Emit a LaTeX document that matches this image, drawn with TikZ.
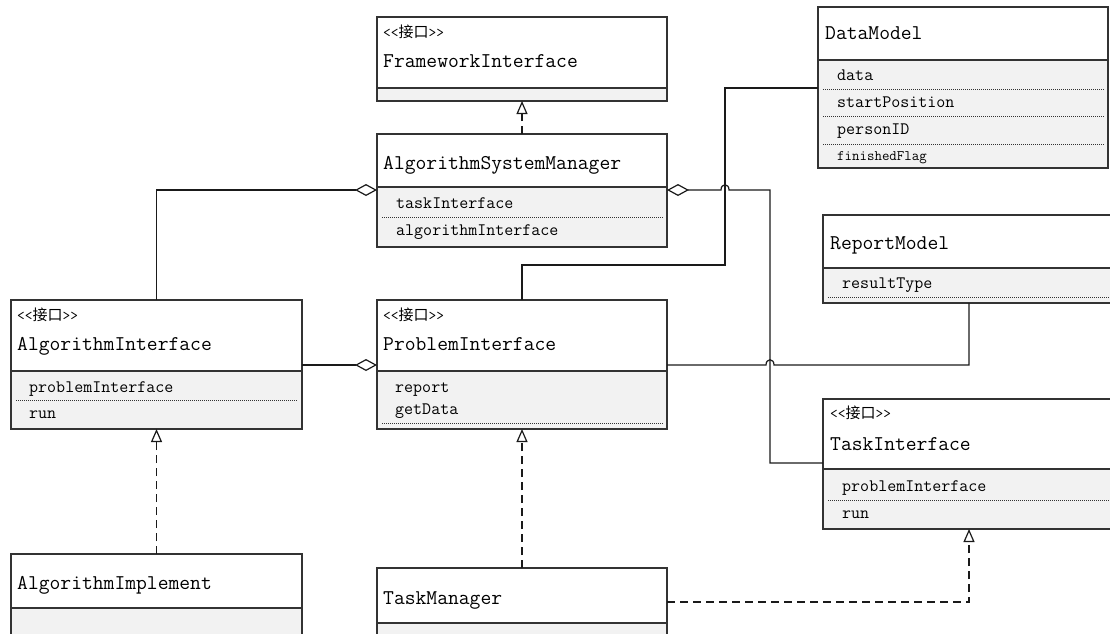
\documentclass[tikz,border=0pt]{standalone}
\usepackage{fontspec}
\newfontfamily\cjk{Noto Sans CJK SC}
\usepackage{tikz}
\usetikzlibrary{arrows.meta}

\definecolor{boxline}{HTML}{333333}
\definecolor{boxfill}{HTML}{F2F2F2}
\definecolor{wire}{HTML}{1A1A1A}

\begin{document}
\begin{tikzpicture}[x=1pt,y=-1pt]
        \tikzstyle{head}=[draw=boxline,fill=white,line width=1.1pt,inner sep=0pt,outer sep=0pt,minimum width=290pt]
        \tikzstyle{body}=[draw=boxline,fill=boxfill,line width=1.1pt,inner sep=0pt,outer sep=0pt,minimum width=290pt]
        \tikzstyle{title}=[anchor=base west,inner sep=0pt,font=\ttfamily\fontsize{21}{24}\selectfont]
        \tikzstyle{attr}=[anchor=base west,inner sep=0pt,font=\ttfamily\fontsize{17.5}{20}\selectfont]
        \tikzstyle{small}=[anchor=base west,inner sep=0pt,font=\ttfamily\fontsize{14.5}{17}\selectfont]
        \tikzstyle{stereo}=[anchor=base west,inner sep=0pt,font=\ttfamily\fontsize{15}{18}\selectfont]
        \tikzstyle{sep}=[black!80,line width=1pt,dash pattern=on 1pt off 1pt]
        \tikzstyle{assoc}=[wire,line width=1.2pt]
        \tikzstyle{aggr}=[{Diamond[open,fill=white,length=22pt,width=12pt]}-,wire,line width=1.2pt]
        \tikzstyle{aggrend}=[-{Diamond[open,fill=white,length=22pt,width=12pt]},wire,line width=1.2pt]
        \tikzstyle{realize}=[-{Triangle[open,fill=white,length=13pt,width=11pt]},wire,line width=1.2pt,dash pattern=on 8pt off 5pt]

        \useasboundingbox (0,0) rectangle (1110,633);

        %%% FrameworkInterface
        \node[head,minimum height=71pt] (fihead) at (522,52.5) {};
        \node[body,minimum height=13pt] (fibody) at (522,94.5) {};
        \node[stereo] (fistereo) at (383,37) {<<{\cjk 接口}>>};
        \node[title] (fititle) at (383,67) {FrameworkInterface};

        %%% AlgorithmSystemManager
        \node[head,minimum height=53pt] (asmhead) at (522,160.5) {};
        \node[body,minimum height=60pt] (asmbody) at (522,217) {};
        \node[title] (asmtitle) at (383,169) {AlgorithmSystemManager};
        \node[attr] (asmtask) at (396,208) {taskInterface};
        \draw[sep] (382,217) -- (663,217);
        \node[attr] (asmalgo) at (396,235) {algorithmInterface};

        %%% DataModel
        \node[head,minimum height=53pt] (dmhead) at (963,33.5) {};
        \node[body,minimum height=108pt] (dmbody) at (963,114) {};
        \node[title] (dmtitle) at (825,39) {DataModel};
        \node[attr] (dmdata) at (837,80) {data};
        \draw[sep] (823,89) -- (1105,89);
        \node[attr] (dmstart) at (837,107) {startPosition};
        \draw[sep] (823,116) -- (1105,116);
        \node[attr] (dmperson) at (837,134) {personID};
        \draw[sep] (823,144) -- (1105,144);
        \node[small] (dmflag) at (837,160) {finishedFlag};

        %%% ReportModel
        \node[head,minimum width=292pt,minimum height=53pt] (rmhead) at (969,241.5) {};
        \node[body,minimum width=292pt,minimum height=35pt] (rmbody) at (969,285.5) {};
        \node[title] (rmtitle) at (830,249) {ReportModel};
        \node[attr] (rmresult) at (842,288) {resultType};
        \draw[sep] (828,297) -- (1115,297);

        %%% AlgorithmInterface
        \node[head,minimum width=291pt,minimum height=71pt] (aihead) at (156.5,335.5) {};
        \node[body,minimum width=291pt,minimum height=58pt] (aibody) at (156.5,400) {};
        \node[stereo] (aistereo) at (17,320) {<<{\cjk 接口}>>};
        \node[title] (aititle) at (17,350) {AlgorithmInterface};
        \node[attr] (aiproblem) at (29,392) {problemInterface};
        \draw[sep] (16,400) -- (298,400);
        \node[attr] (airun) at (29,418) {run};

        %%% ProblemInterface
        \node[head,minimum height=71pt] (pihead) at (522,335.5) {};
        \node[body,minimum height=58pt] (pibody) at (522,400) {};
        \node[stereo] (pistereo) at (383,320) {<<{\cjk 接口}>>};
        \node[title] (pititle) at (383,350) {ProblemInterface};
        \node[attr] (pireport) at (395,392) {report};
        \node[attr] (pidata) at (395,414) {getData};
        \draw[sep] (382,423) -- (663,423);

        %%% TaskInterface
        \node[head,minimum width=292pt,minimum height=70pt] (tihead) at (969,434) {};
        \node[body,minimum width=292pt,minimum height=60pt] (tibody) at (969,499) {};
        \node[stereo] (tistereo) at (830,418) {<<{\cjk 接口}>>};
        \node[title] (tititle) at (830,450) {TaskInterface};
        \node[attr] (tiproblem) at (842,491) {problemInterface};
        \draw[sep] (828,500) -- (1115,500);
        \node[attr] (tirun) at (842,518) {run};

        %%% AlgorithmImplement
        \node[head,minimum width=291pt,minimum height=54pt] (aimhead) at (156.5,581) {};
        \node[body,minimum width=291pt,minimum height=52pt] (aimbody) at (156.5,634) {};
        \node[title] (aimtitle) at (17,589) {AlgorithmImplement};

        %%% TaskManager
        \node[head,minimum height=55pt] (tmhead) at (522,595.5) {};
        \node[body,minimum height=47pt] (tmbody) at (522,646.5) {};
        \node[title] (tmtitle) at (383,604) {TaskManager};

        %%% attachment points
        \coordinate (asml) at (377,190);
        \coordinate (asmr) at (667,190);
        \coordinate (tiw) at (823,463);
        \coordinate (air) at (302,365);
        \coordinate (pil) at (377,365);
        \coordinate (pir) at (667,365);
        \coordinate (dml) at (818,88);
        \coordinate (tmr) at (667,602);

        %%% realizations
        \draw[realize] (asmhead.north) -- (fibody.south);
        \draw[realize] (aimhead.north) -- (aibody.south);
        \draw[realize] (tmhead.north) -- (pibody.south);
        \draw[realize] (tmr) -| (tibody.south);

        %%% aggregations
        \draw[aggr] (asml) -| (aihead.north);
        \draw[aggr] (asmr) -- (721,190) .. controls (721,183) and (729,183) .. (729,190) -- (770,190) |- (tiw);
        \draw[aggrend] (air) -- (pil);

        %%% associations
        \draw[assoc] (dml) -- (725,88) -- (725,265) -| (pihead.north);
        \draw[assoc] (pir) -- (766,365) .. controls (766,358) and (774,358) .. (774,365) -| (rmbody.south);
\end{tikzpicture}
\end{document}
